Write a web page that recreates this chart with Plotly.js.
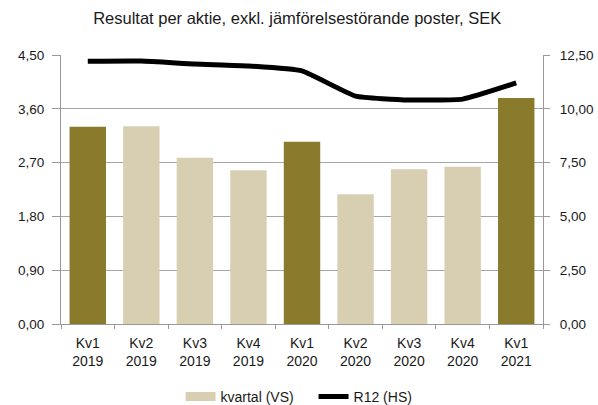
<!DOCTYPE html>
<html>
<head>
<meta charset="utf-8">
<script src="https://cdn.plot.ly/plotly-3.0.1.min.js"></script>
<style>html,body{margin:0;padding:0;background:#fff}#chart{width:598px;height:405px}</style>
</head>
<body>
<div id="chart"></div>
<script>
const categories = ["Kv1<br>2019","Kv2<br>2019","Kv3<br>2019","Kv4<br>2019","Kv1<br>2020","Kv2<br>2020","Kv3<br>2020","Kv4<br>2020","Kv1<br>2021"];
const kvartal = [3.30, 3.31, 2.78, 2.57, 3.05, 2.17, 2.59, 2.63, 3.78];
const r12 = [12.21, 12.22, 12.08, 11.99, 11.76, 10.59, 10.41, 10.45, 11.20];
const leftTicks = [0, 0.9, 1.8, 2.7, 3.6, 4.5];
const leftTickText = ["0,00","0,90","1,80","2,70","3,60","4,50"];
const rightTicks = [0, 2.5, 5, 7.5, 10, 12.5];
const rightTickText = ["0,00","2,50","5,00","7,50","10,00","12,50"];

const dark = "#8a7a2c", light = "#d8cfb3";
const isQ1 = categories.map(c => c.startsWith("Kv1"));
const q1Vals = kvartal.map((v, i) => isQ1[i] ? v : null);
const otherVals = kvartal.map((v, i) => isQ1[i] ? null : v);

const fam = "Arial, 'Liberation Sans', sans-serif";
const col = "#1a1a1a";
const yfnt = {family: fam, size: 13.5, color: col};
const xfnt = {family: fam, size: 14, color: col};

const data = [
  {type: "bar", x: categories, y: otherVals, name: "kvartal (VS)", marker: {color: light}, yaxis: "y", showlegend: false},
  {type: "bar", x: categories, y: q1Vals, name: "kvartal Kv1", marker: {color: dark}, yaxis: "y", showlegend: false},
  {type: "scatter", mode: "lines", x: [categories[0]], y: [null], name: "kvartal (VS)", yaxis: "y",
   line: {color: light, width: 9}, showlegend: true},
  {type: "scatter", mode: "lines", x: categories, y: r12, name: "R12 (HS)", yaxis: "y2",
   line: {color: "#000", width: 5, shape: "spline", smoothing: 0.4}}
];

const layout = {
  width: 598, height: 405,
  margin: {l: 61, r: 55, t: 55, b: 81},
  paper_bgcolor: "#fff", plot_bgcolor: "#fff",
  font: yfnt,
  title: {text: "Resultat per aktie, exkl. jämförelsestörande poster, SEK", font: {family: fam, size: 16.5, color: col}, x: 0.497, xanchor: "center", y: 0.955, yanchor: "middle"},
  barmode: "overlay",
  bargap: 0.32,
  showlegend: true,
  legend: {orientation: "h", x: 0.248, xanchor: "left", yref: "container", y: 0.02, yanchor: "middle", font: xfnt, traceorder: "normal",
    entrywidth: 88, entrywidthmode: "pixels", itemwidth: 30},
  xaxis: {type: "category", tickson: "boundaries", ticks: "outside", ticklen: 4, tickcolor: "#999",
    ticklabelstandoff: 6, automargin: false,
    showline: true, linecolor: "#999", linewidth: 1, showgrid: false, tickfont: xfnt, fixedrange: true},
  yaxis: {range: [0, 4.5], tickvals: leftTicks, ticktext: leftTickText, ticks: "outside", ticklen: 8, tickcolor: "#999",
    ticklabelstandoff: 5, automargin: false,
    showline: true, linecolor: "#999", gridcolor: "#a6a6a6", gridwidth: 1, zeroline: false, tickfont: yfnt, fixedrange: true},
  yaxis2: {range: [0, 12.5], tickvals: rightTicks, ticktext: rightTickText, overlaying: "y", side: "right",
    ticks: "outside", ticklen: 6, tickcolor: "#999", ticklabelstandoff: 7, automargin: false,
    showline: true, linecolor: "#999", showgrid: false, zeroline: false, tickfont: yfnt, fixedrange: true}
};

Plotly.newPlot("chart", data, layout, {displayModeBar: false, staticPlot: true});
</script>
</body>
</html>
